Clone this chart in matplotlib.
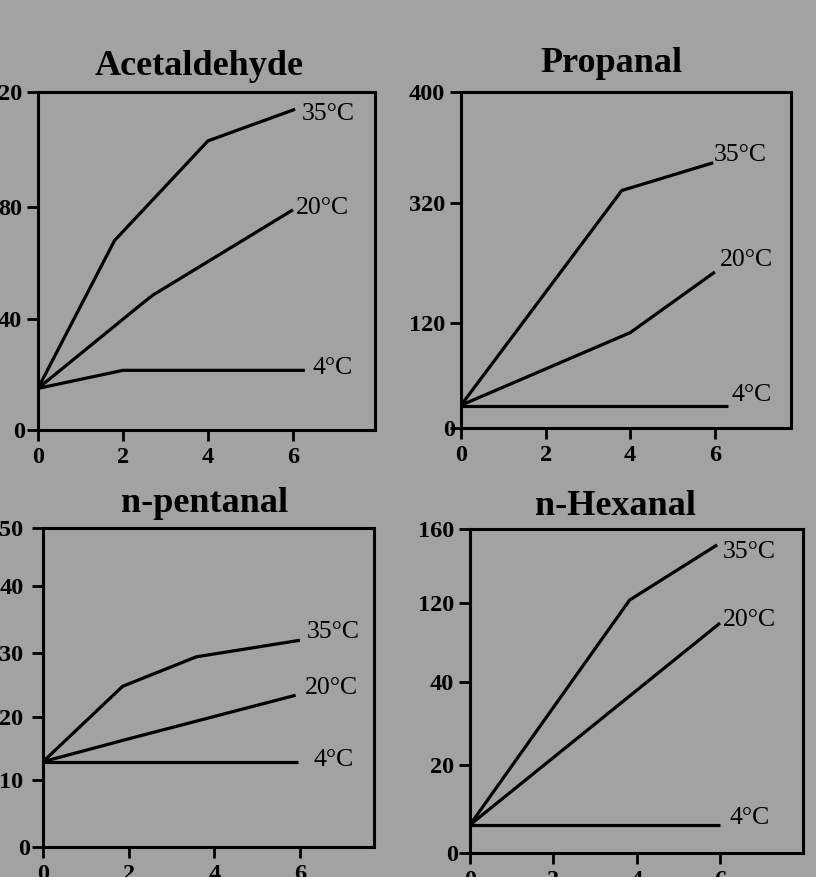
import numpy as np
import matplotlib
matplotlib.use("Agg")
import matplotlib.pyplot as plt
from matplotlib.transforms import ScaledTranslation

# ---------------- data ----------------
titles = ["Acetaldehyde", "Propanal", "n-pentanal", "n-Hexanal"]
x_ticks = [0, 2, 4, 6]
temps = ["35°C", "20°C", "4°C"]

# y tick values per panel (axes are drawn on a piecewise scale through them)
acet_yticks = [0, 40, 80, 120]
prop_yticks = [0, 120, 320, 400]
pent_yticks = [0, 10, 20, 30, 40, 50]
hex_yticks = [0, 20, 40, 120, 160]

# series: (x, y) for 35, 20, 4 degC
acet_35_x = [0, 1.8, 4.0, 6.05]
acet_35_y = [15, 68, 103, 114]
acet_20_x = [0, 2.45, 2.7, 6.0]
acet_20_y = [15, 45.5, 48.5, 79]
acet_4_x = [0, 2.0, 6.28]
acet_4_y = [15, 21.5, 21.5]

prop_35_x = [0, 3.8, 5.96]
prop_35_y = [26, 329, 349]
prop_20_x = [0, 4.0, 6.0]
prop_20_y = [26, 109, 205]
prop_4_x = [0, 6.3]
prop_4_y = [25, 25]

pent_35_x = [0, 1.86, 3.58, 6.0]
pent_35_y = [12.9, 24.8, 29.4, 31.9]
pent_20_x = [0, 1.98, 5.9]
pent_20_y = [12.9, 16.5, 23.4]
pent_4_x = [0, 5.95]
pent_4_y = [12.9, 12.9]

hex_35_x = [0, 3.83, 5.93]
hex_35_y = [6.4, 121.6, 151.4]
hex_20_x = [0, 6.0]
hex_20_y = [6.4, 99.7]
hex_4_x = [0, 6.0]
hex_4_y = [6.4, 6.4]

# ---------------- layout / style ----------------
W, H = 816, 877
BG = "#a2a2a2"
FONT = "Liberation Serif"

fig = plt.figure(figsize=(W / 100, H / 100), dpi=100)
fig.patch.set_facecolor(BG)

def px_axes(l, r, t, b):
    return fig.add_axes([l / W, (H - b) / H, (r - l) / W, (b - t) / H])

panels = [
    dict(box=(38, 375, 92, 430), xmax=7.93, yt=acet_yticks, ypos=[0, 111, 223, 338],
         series=[(acet_35_x, acet_35_y), (acet_20_x, acet_20_y), (acet_4_x, acet_4_y)],
         offs=[(7, -5), (3, 2), (8, 2)], title_xy=(0.478, 1.050), zero_shift=3, ypad=3.5),
    dict(box=(461, 791, 92, 428), xmax=7.80, yt=prop_yticks, ypos=[0, 105, 225, 336],
         series=[(prop_35_x, prop_35_y), (prop_20_x, prop_20_y), (prop_4_x, prop_4_y)],
         offs=[(1, 8), (5, 12), (4, 11)], title_xy=(0.455, 1.060), zero_shift=10, ypad=3.5),
    dict(box=(43, 374, 528, 847), xmax=7.73, yt=pent_yticks, ypos=[0, 67, 130, 194, 261, 319],
         series=[(pent_35_x, pent_35_y), (pent_20_x, pent_20_y), (pent_4_x, pent_4_y)],
         offs=[(7, 8), (9, 7), (16, 2)], title_xy=(0.489, 1.050), zero_shift=7, ypad=6),
    dict(box=(470, 803, 529, 853), xmax=7.99, yt=hex_yticks, ypos=[0, 88, 171, 250, 324],
         series=[(hex_35_x, hex_35_y), (hex_20_x, hex_20_y), (hex_4_x, hex_4_y)],
         offs=[(6, -7), (3, 3), (9, 7)], title_xy=(0.438, 1.043), zero_shift=4, ypad=3.5),
]

for title, p in zip(titles, panels):
    ax = px_axes(*p["box"])
    ax.set_facecolor(BG)
    tv = np.array(p["yt"], dtype=float)
    pf = np.array(p["ypos"], dtype=float) / p["ypos"][-1]
    fwd = (lambda tv, pf: (lambda v: np.interp(v, tv, pf)))(tv, pf)
    inv = (lambda tv, pf: (lambda q: np.interp(q, pf, tv)))(tv, pf)
    ax.set_yscale("function", functions=(fwd, inv))
    ax.set_ylim(tv[0], tv[-1])
    ax.set_xlim(0, p["xmax"])
    ax.set_xticks(x_ticks)
    ax.set_xticklabels([str(v) for v in x_ticks])
    ax.set_yticks(p["yt"])
    ax.set_yticklabels([str(v) for v in p["yt"]])
    ax.minorticks_off()
    for s in ax.spines.values():
        s.set_linewidth(2.2)
        s.set_color("black")
    ax.tick_params(direction="out", length=8, width=2, colors="black")
    ax.tick_params(axis="x", pad=4.5)
    ax.tick_params(axis="y", pad=p["ypad"])
    for lab in ax.get_xticklabels() + ax.get_yticklabels():
        lab.set_fontfamily(FONT)
        lab.set_fontweight("bold")
        lab.set_fontsize(17.5)
    zl = ax.get_yticklabels()[0]
    zl.set_transform(zl.get_transform() + ScaledTranslation(p["zero_shift"] / 100, 0, fig.dpi_scale_trans))

    for (xs, ys), lab, off in zip(p["series"], temps, p["offs"]):
        ax.plot(xs, ys, color="black", lw=2.3, solid_capstyle="butt", solid_joinstyle="miter")
        ax.annotate(lab, (xs[-1], ys[-1]), xytext=off, textcoords="offset pixels",
                    ha="left", va="center", fontsize=18.5, family=FONT, color="black")

    ax.text(p["title_xy"][0], p["title_xy"][1], title, transform=ax.transAxes,
            ha="center", va="baseline", fontsize=26, fontweight="bold", family=FONT,
            color="black")

fig.savefig("out.png", dpi=100, facecolor=BG)
